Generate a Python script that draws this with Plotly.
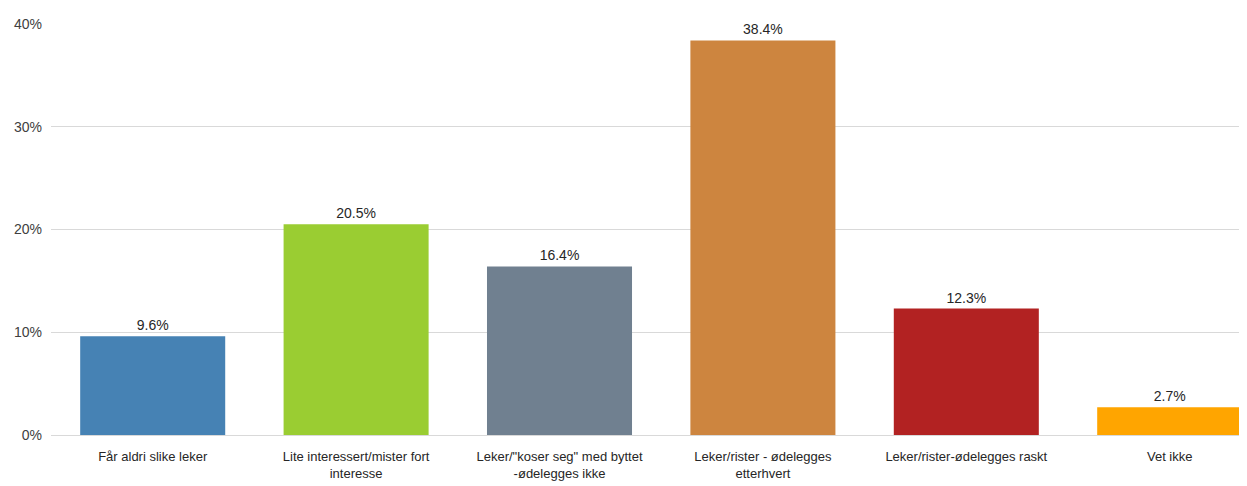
import plotly.graph_objects as go

categories = [
    "Får aldri slike leker",
    "Lite interessert/mister fort<br>interesse",
    "Leker/\"koser seg\" med byttet<br>-ødelegges ikke",
    "Leker/rister - ødelegges<br>etterhvert",
    "Leker/rister-ødelegges raskt",
    "Vet ikke",
]
values = [0.096, 0.205, 0.164, 0.384, 0.123, 0.027]
colors = ["#4682B4", "#9ACD32", "#708090", "#CD853F", "#B22222", "#FFA500"]
y_ticks = [0, 0.1, 0.2, 0.3, 0.4]

fig = go.Figure(go.Bar(
    x=list(range(len(categories))),
    y=values,
    marker=dict(color=colors, line=dict(width=0)),
    width=0.713,
    text=[f"{v*100:.1f}%" for v in values],
    textposition="outside",
    cliponaxis=False,
    textfont=dict(size=14, color="#262626"),
))

fig.update_layout(
    width=1239, height=478,
    margin=dict(l=43, r=0, t=16, b=51),
    plot_bgcolor="white", paper_bgcolor="white",
    font=dict(family="Liberation Sans, Arial, sans-serif", size=14, color="#262626"),
    showlegend=False,
    xaxis=dict(
        tickmode="array", tickvals=list(range(len(categories))), ticktext=categories,
        range=[-0.5, 5.38], showgrid=False, showline=False, ticks="",
        tickfont=dict(size=13, color="#262626"), ticklabelstandoff=12,
    ),
    yaxis=dict(
        range=[0, 0.4], tickvals=y_ticks, tickformat=".0%",
        showgrid=True, gridcolor="#d9d9d9", gridwidth=1,
        zeroline=True, zerolinecolor="#d9d9d9", zerolinewidth=1,
        showline=False, ticks="", ticklen=0,
        tickfont=dict(size=14, color="#404040"), ticklabelstandoff=8,
    ),
)

fig.write_html("out.html")
